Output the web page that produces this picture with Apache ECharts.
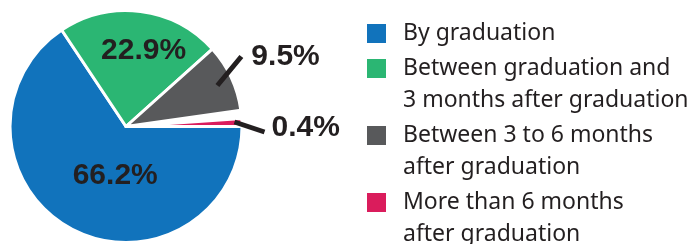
<!DOCTYPE html>
<html>
<head>
<meta charset="utf-8">
<script src="https://cdn.jsdelivr.net/npm/echarts@6/dist/echarts.min.js"></script>
<style>
  html, body { margin: 0; padding: 0; background: #fff; }
  #chart { width: 692px; height: 244px; }
</style>
</head>
<body>
<div id="chart"></div>
<script>
// categories as shown in the legend
const categories = [
  'By graduation',
  'Between graduation and\n3 months after graduation',
  'Between 3 to 6 months\nafter graduation',
  'More than 6 months\nafter graduation',
]
// share of graduates (%)
const shares = [66.2, 22.9, 9.5, 0.4]
const colors = ['#1173bc', '#2bb673', '#58595b', '#da1c5c']

// the published shares add up to 99%, the rest is left blank in the pie
const blankShare = +(100 - shares.reduce((a, b) => a + b, 0)).toFixed(1)

const textColor = '#231f20'
const clear = 'rgba(0,0,0,0)'

// inside labels are nudged a little, like in the original
const insideOffsets = [[18, -5], [10, -15]]

// overlay = second pie on top, only used so the leader lines sit above the slices
function buildData(overlay) {
  const out = []
  shares.forEach((v, i) => {
    if (i === 3) {
      out.push({
        name: '',
        value: blankShare,
        itemStyle: { color: clear, borderColor: clear },
        label: { show: false },
        labelLine: { show: false },
        tooltip: { show: false },
        emphasis: { disabled: true },
      })
    }
    const inside = i < 2
    const item = { name: categories[i], value: v }
    if (overlay) {
      item.itemStyle = { color: clear, borderColor: clear }
      item.label = inside ? { show: false } : { show: true, position: 'outside' }
      item.labelLine = { show: !inside }
    } else {
      item.itemStyle = { color: colors[i] }
      item.label = inside
        ? { show: true, position: 'inside', offset: insideOffsets[i] }
        : { show: false }
      item.labelLine = { show: false }
    }
    out.push(item)
  })
  return out
}

// legend with the square drawn as first token of the first line
const rich = {
  gap: { width: 17, lineHeight: 32 },
  ind: { width: 36, lineHeight: 32 },
}
colors.forEach((c, i) => {
  rich['sq' + i] = { width: 19, height: 19, backgroundColor: c, lineHeight: 32 }
})

const pieBase = {
  type: 'pie',
  center: [126, 126.5],
  radius: 116,
  startAngle: 0,
  clockwise: true,
  minAngle: 4,
  avoidLabelOverlap: false,
  itemStyle: { borderColor: '#fff', borderWidth: 3 },
  emphasis: { scale: false },
  label: {
    formatter: (p) => p.value.toFixed(1) + '%',
    fontFamily: 'Liberation Sans',
    fontWeight: 'bold',
    fontSize: 30,
    color: textColor,
  },
}

const chart = echarts.init(document.getElementById('chart'))

chart.setOption({
  animation: false,
  backgroundColor: '#fff',
  tooltip: { trigger: 'item', formatter: (p) => p.name.replace('\n', ' ') + ': ' + p.value + '%' },
  legend: {
    orient: 'vertical',
    left: 361,
    top: 17.5,
    height: 400,
    padding: 0,
    itemGap: 3,
    itemWidth: 0,
    itemHeight: 0,
    icon: 'rect',
    itemStyle: { opacity: 0 },
    data: categories,
    formatter: (name) => {
      const i = categories.indexOf(name)
      const lines = name.split('\n')
      return lines
        .map((l, k) => (k === 0 ? `{sq${i}|}{gap|}` : '{ind|}') + l)
        .join('\n')
    },
    textStyle: {
      fontFamily: 'Noto Sans',
      fontSize: 23,
      color: textColor,
      lineHeight: 32,
      rich,
    },
  },
  series: [
    {
      ...pieBase,
      z: 2,
      data: buildData(false),
    },
    {
      ...pieBase,
      z: 3,
      silent: true,
      labelLine: {
        showAbove: true,
        length: 10,
        length2: 0,
        lineStyle: { color: textColor, width: 5, cap: 'butt' },
      },
      labelLayout: (params) => {
        const r = params.rect
        const right = r.x + r.width
        if (params.dataIndex === 2) {
          const x = right + 9
          const y = r.y + 9
          return {
            x, y, align: 'left', verticalAlign: 'middle',
            labelLinePoints: [[x - 34, y + 29], [x - 22, y + 14.5], [x - 10, y]],
          }
        }
        if (params.dataIndex === 4) {
          const x = right + 28
          const y = r.y + r.height
          return {
            x, y, align: 'left', verticalAlign: 'middle',
            labelLinePoints: [[x - 37, y - 6], [x - 22, y - 1], [x - 7, y + 4]],
          }
        }
      },
      data: buildData(true),
    },
  ],
})
</script>
</body>
</html>
